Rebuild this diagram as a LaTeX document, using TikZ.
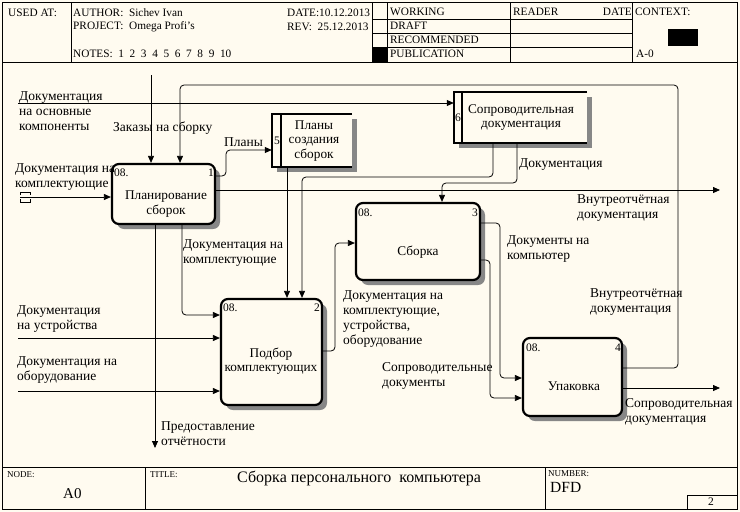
\documentclass[tikz,border=0pt]{standalone}
\usepackage{fontspec}
\setmainfont{Liberation Serif}
\usetikzlibrary{arrows.meta,shadows}
\definecolor{bgc}{RGB}{255,251,240}
\definecolor{shd}{RGB}{135,135,135}
\begin{document}
\begin{tikzpicture}[x=1pt,y=-1pt,
  conn/.style={line width=0.8pt,rounded corners=4pt},
  arr/.style={conn,-{Triangle[length=7pt,width=6pt]}},
  lbl/.style={font=\fontsize{13.5}{15}\selectfont,align=left,anchor=west,inner sep=0pt},
  hdr/.style={font=\fontsize{11.3}{12}\selectfont,anchor=west,inner sep=0pt},
  num/.style={font=\fontsize{11.5}{12}\selectfont,inner sep=0pt},
  tinyl/.style={font=\fontsize{9}{10}\selectfont,anchor=west,inner sep=0pt},
  frm/.style={line width=0.8pt},
  proc/.style={draw,line width=2.2pt,rounded corners=7pt,fill=bgc,inner sep=0pt,
     general shadow={shadow xshift=5pt,shadow yshift=-5pt,fill=shd}},
  store/.style={fill=bgc,inner sep=0pt,
     general shadow={shadow xshift=5pt,shadow yshift=-5pt,fill=shd}},
  storeline/.style={line width=2.2pt},
  ptxt/.style={font=\fontsize{13.3}{14.5}\selectfont,align=center,inner sep=0pt},
]
\fill[bgc] (0,0) rectangle (740,512);
\useasboundingbox (0,0) rectangle (740,512);

% ---------- frame ----------
\draw[frm] (2.5,2.5) rectangle (737,509.5);
\draw[frm] (2.5,62.5) -- (737,62.5);
\draw[frm] (71,2.5) -- (71,62.5);
\draw[frm] (372,2.5) -- (372,62.5);
\draw[frm] (387,2.5) -- (387,62.5);
\draw[frm] (510,2.5) -- (510,62.5);
\draw[frm] (632,2.5) -- (632,62.5);
\draw[frm] (372,19) -- (632,19);
\draw[frm] (372,33) -- (632,33);
\draw[frm] (372,47) -- (632,47);
\fill[black] (372,47) rectangle (387,62.5);
\fill[black] (668,29) rectangle (698,46);
\draw[frm] (2.5,467) -- (737,467);
\draw[frm] (145,467) -- (145,509.5);
\draw[frm] (545,467) -- (545,509.5);
\draw[frm] (687,495) rectangle (737,509.5);

% ---------- header texts ----------
\node[hdr] (h1) at (8,13) {USED AT:};
\node[hdr] (h2) at (73,13) {AUTHOR:\ \ Sichev Ivan};
\node[hdr] (h3) at (73,27) {PROJECT:\ \ Omega Profi's};
\node[hdr] (h4) at (73,54) {NOTES:\ \ 1\ \ 2\ \ 3\ \ 4\ \ 5\ \ 6\ \ 7\ \ 8\ \ 9\ \ 10};
\node[hdr] (h5) at (287,13) {DATE:10.12.2013};
\node[hdr] (h6) at (287,27) {REV:\ \ 25.12.2013};
\node[hdr] (h7) at (390,12) {WORKING};
\node[hdr] (h8) at (390,26) {DRAFT};
\node[hdr] (h9) at (390,40) {RECOMMENDED};
\node[hdr] (h10) at (390,54) {PUBLICATION};
\node[hdr] (h11) at (513,12) {READER};
\node[hdr,anchor=east] (h12) at (632,12) {DATE};
\node[hdr] (h13) at (635,12) {CONTEXT:};
\node[hdr] (h14) at (636,54) {A-0};

% ---------- footer texts ----------
\node[tinyl] (f1) at (7,475) {NODE:};
\node[font=\fontsize{15}{16}\selectfont,anchor=west,inner sep=0pt] (f2) at (63,494) {A0};
\node[tinyl] (f3) at (150,475) {TITLE:};
\node[font=\fontsize{16}{17}\selectfont,anchor=west,inner sep=0pt] (f4) at (237,478) {Сборка персонального\ \ компьютера};
\node[tinyl] (f5) at (548,474) {NUMBER:};
\node[font=\fontsize{15.5}{16}\selectfont,anchor=west,inner sep=0pt] (f6) at (550,487) {DFD};
\node[num] (f7) at (711,502) {2};

% ---------- processes ----------
\node[proc,minimum width=103pt,minimum height=60pt] (n1) at (163.5,194) {};
\node[ptxt] (n1t) at (166,204) {Планирование\\сборок};
\node[num,anchor=west] (n1a) at (114,173) {08.};
\node[num] (n1b) at (211,173) {1};

\node[proc,minimum width=101pt,minimum height=106pt] (n2) at (271.5,352) {};
\node[ptxt] (n2t) at (271,361) {Подбор\\комплектующих};
\node[num,anchor=west] (n2a) at (223,308) {08.};
\node[num] (n2b) at (317,308) {2};

\node[proc,minimum width=124pt,minimum height=77pt] (n3) at (418,241.5) {};
\node[ptxt] (n3t) at (418,252) {Сборка};
\node[num,anchor=west] (n3a) at (358,213) {08.};
\node[num] (n3b) at (475,213) {3};

\node[proc,minimum width=99pt,minimum height=78pt] (n4) at (572.5,377) {};
\node[ptxt] (n4t) at (574,386) {Упаковка};
\node[num,anchor=west] (n4a) at (526,348) {08.};
\node[num] (n4b) at (618,348) {4};

% ---------- data stores ----------
\node[store,minimum width=80pt,minimum height=53pt] (n5) at (312,140.5) {};
\draw[storeline] (n5.north east) -- (n5.north west) -- (n5.south west) -- (n5.south east);
\draw[line width=2pt] ([xshift=9pt]n5.north west) -- ([xshift=9pt]n5.south west);
\node[ptxt] (n5t) at (314,141) {Планы\\создания\\сборок};
\node[num] (n5n) at (277,141) {5};

\node[store,minimum width=133pt,minimum height=51pt] (n6) at (520.5,117.5) {};
\draw[storeline] (n6.north east) -- (n6.north west) -- (n6.south west) -- (n6.south east);
\draw[line width=2pt] ([xshift=8pt]n6.north west) -- ([xshift=8pt]n6.south west);
\node[ptxt] (n6t) at (521,117.5) {Сопроводительная\\документация};
\node[num] (n6n) at (458,118) {6};

% ---------- free ends ----------
\coordinate (cZ) at (151,75);
\coordinate (cD1) at (18,103);
\coordinate (cD2) at (20,197);
\coordinate (cD3) at (18,338);
\coordinate (cD4) at (18,391);
\coordinate (oV) at (720,190);
\coordinate (oP) at (155,448);
\coordinate (oS) at (720,388);

% ---------- connectors ----------
\draw[arr] (cZ) -- (cZ |- n1.north);
\draw[arr] (n4.east |- 0,368) -- (678,368) -- (678,85) -- (180,85) -- (180,0 |- n1.north);
\draw[arr] (cD1) -- (cD1 -| n6.west);
\draw[arr] (cD2) -- (cD2 -| n1.west);
\draw[line width=0.8pt] (20,195) -- (20,192) -- (30,192) -- (30,195);
\draw[line width=0.8pt] (20,199) -- (20,202) -- (30,202) -- (30,199);
\draw[arr] (n1.east |- 0,176) -- (226,176) -- (226,150) -- (n5.west |- 0,150);
\draw[arr] (n1.east |- oV) -- (oV);
\draw[arr] (n1.south -| oP) -- (oP);
\draw[arr] (182,0 |- n1.south) -- (182,315) -- (n2.west |- 0,315);
\draw[arr] (287,0 |- n5.south) -- (287,0 |- n2.north);
\draw[arr] (493,0 |- n6.south) -- (493,177) -- (302,177) -- (302,0 |- n2.north);
\draw[arr] (517,0 |- n6.south) -- (517,183) -- (442,183) -- (442,0 |- n3.north);
\draw[arr] (n2.east |- 0,351) -- (335,351) -- (335,243) -- (n3.west |- 0,243);
\draw[arr] (n3.east |- 0,223) -- (500,223) -- (500,378) -- (n4.west |- 0,378);
\draw[arr] (n3.east |- 0,260) -- (490,260) -- (490,398) -- (n4.west |- 0,398);
\draw[arr] (n4.east |- oS) -- (oS);
\draw[arr] (cD3) -- (cD3 -| n2.west);
\draw[arr] (cD4) -- (cD4 -| n2.west);

% ---------- labels ----------
\node[lbl] (L1) at (19,111) {Документация\\на основные\\компоненты};
\node[lbl] (L2) at (113,128) {Заказы на сборку};
\node[lbl] (L3) at (15,177.5) {Документация на\\комплектующие};
\node[lbl] (L4) at (224,142) {Планы};
\node[lbl] (L5) at (519,165) {Документация};
\node[lbl] (L6) at (577,208.5) {Внутреотчётная\\документация};
\node[lbl] (L7) at (183,253) {Документация на\\комплектующие};
\node[lbl] (L8) at (507,249.5) {Документы на\\компьютер};
\node[lbl] (L9) at (343,319.5) {Документация на\\комплектующие,\\устройства,\\оборудование};
\node[lbl] (L10) at (590,302.5) {Внутреотчётная\\документация};
\node[lbl] (L11) at (17,319.5) {Документация\\на устройства};
\node[lbl] (L12) at (17,370.5) {Документация на\\оборудование};
\node[lbl] (L13) at (382,376) {Сопроводительные\\документы};
\node[lbl] (L14) at (625,412) {Сопроводительная\\документация};
\node[lbl] (L15) at (161,434) {Предоставление\\отчётности};
\end{tikzpicture}
\end{document}
